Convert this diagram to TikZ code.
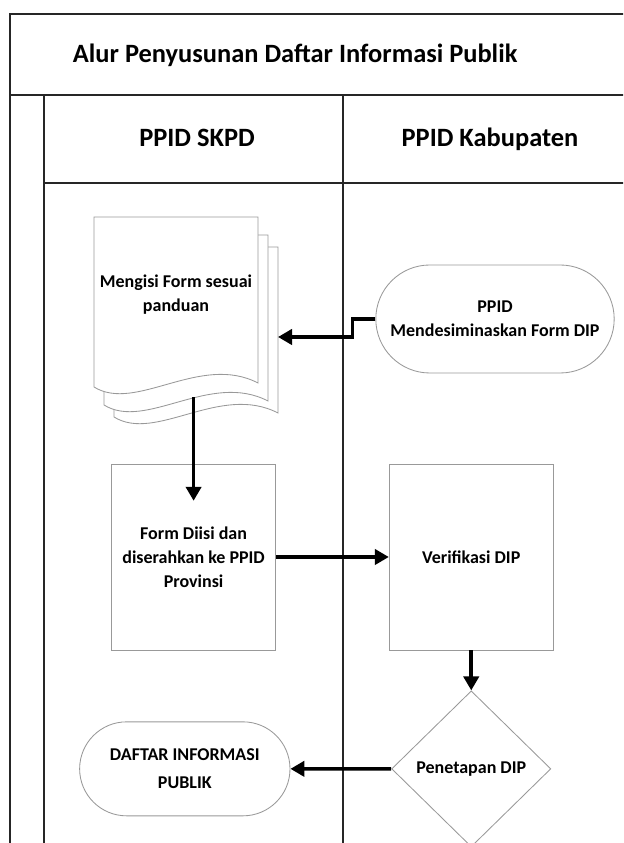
\documentclass[tikz,border=0pt]{standalone}
\usepackage{fontspec}
\setmainfont{Carlito}
\usetikzlibrary{arrows.meta,positioning,calc,shapes.geometric,shapes.misc}
\newcommand{\docpage}[2]{%
  \draw[pg, shift={(#1,#2)}] (2.35,15.65) -- (6.45,15.65) -- (6.45,11.5)
    .. controls (5.0,12.25) and (3.4,10.75) .. (2.35,11.4) -- cycle;}

\begin{document}
\begin{tikzpicture}[
  lane/.style={line width=2pt, draw=black!85},
  hd/.style={font=\fontsize{18.8}{22}\selectfont\bfseries},
  st/.style={draw=black!40, line width=0.6pt, align=center, font=\fontsize{12.8}{17}\selectfont\bfseries, fill=white},
  pg/.style={draw=black!40, line width=0.6pt, fill=white},
  box/.style={st, minimum width=4.1cm, minimum height=4.65cm},
  term/.style={st, rounded rectangle, inner sep=2pt},
  dec/.style={st, diamond, inner sep=0pt, minimum width=3.98cm, minimum height=3.9cm},
  arr/.style={-{Triangle[length=3.5mm,width=3.8mm]}, line width=2.6pt, draw=black}]
\useasboundingbox (0,0) rectangle (15.575,21.075);
\clip (0,0) rectangle (15.575,21.075);
\fill[white] (0,0) rectangle (15.575,21.075);
% pool and lanes
\draw[lane] (0.25,-0.5) |- (16,20.725);
\draw[lane] (0.25,18.7) -- (16,18.7);
\draw[lane] (1.1,18.7) -- (1.1,-0.5);
\draw[lane] (1.1,16.5) -- (16,16.5);
\draw[lane] (8.575,18.7) -- (8.575,-0.5);
\node[hd, anchor=west] (ttl) at (1.7,19.7) {Alur Penyusunan Daftar Informasi Publik};
\node[hd, anchor=base] (skpd) at (4.925,17.4) {PPID SKPD};
\node[hd, anchor=base] (kab) at (12.25,17.4) {PPID Kabupaten};
% multi document
\docpage{0.5}{-0.75}
\docpage{0.25}{-0.45}
\docpage{0}{0}
\node[st, draw=none, fill=none, minimum width=4.1cm, minimum height=3.9cm] (doc) at (4.4,13.7) {Mengisi Form sesuai\\panduan};
\coordinate (docin) at (6.95,12.65);
% steps
\node[term, minimum width=6.1cm, minimum height=2.7cm] (pub) at (12.375,13.1) {PPID\\Mendesiminaskan Form DIP};
\node[box] (form) at (4.84,7.15) {Form Diisi dan\\diserahkan ke PPID\\Provinsi};
\node[box, right=2.82cm of form] (verif) {Verifikasi DIP};
\node[dec, below=1cm of verif] (pen) {Penetapan DIP};
\node[term, minimum width=5.4cm, minimum height=2.35cm, left=2.52cm of pen] (dip) {DAFTAR INFORMASI\\[3pt]PUBLIK};
% arrows
\draw[arr] (pub.west) -- ++(-0.575,0) |- (docin);
\draw[arr] ($(doc.south -| form.north)+(0,-0.6)$) -- ($(form.north)+(0,-0.93)$);
\draw[arr] (form) -- (verif);
\draw[arr] (verif) -- (pen);
\draw[arr] (pen) -- (dip);
\end{tikzpicture}
\end{document}
